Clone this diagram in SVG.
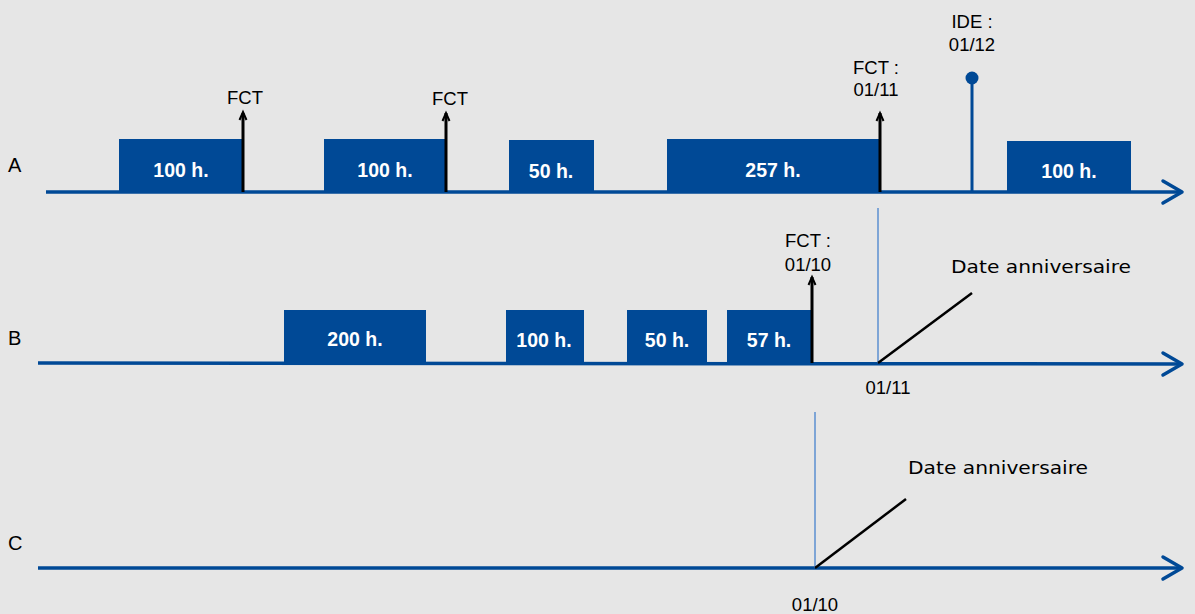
<svg xmlns="http://www.w3.org/2000/svg" width="1195" height="614" viewBox="0 0 1195 614">
<defs>
<style>
.bg{fill:#e6e6e6}
.box{fill:#004996}
.bl{font-family:"Liberation Sans",Arial,sans-serif;font-weight:bold;font-size:19.5px;fill:#fff;text-anchor:middle}
.t{font-family:"Liberation Sans",Arial,sans-serif;font-size:18.5px;fill:#000;text-anchor:middle}
.row{font-family:"Liberation Sans",Arial,sans-serif;font-size:20px;fill:#000}
.da{font-family:"DejaVu Sans","Liberation Sans",sans-serif;font-size:18px;fill:#000}
.axis{stroke:#004996;stroke-width:3.5;fill:none}
.head{stroke:#004996;stroke-width:3.5;fill:none;stroke-linecap:round;stroke-linejoin:round}
.fct{stroke:#000;stroke-width:3;fill:none}
.ah{stroke:#000;stroke-width:2;fill:none;stroke-linejoin:miter}
.thin{stroke:#5b8fd0;stroke-width:1.5;fill:none}
.diag{stroke:#000;stroke-width:2.5;fill:none}
</style>
</defs>
<rect class="bg" x="0" y="0" width="1195" height="614"/>
<text class="row" x="8" y="172">A</text>
<text class="row" x="8" y="345">B</text>
<text class="row" x="8" y="550">C</text>

<g id="connectors">
<line class="axis" x1="46" y1="192" x2="1181" y2="192"/>
<path class="head" d="M1163,181 L1182,192 L1163,203"/>
<line class="axis" x1="38" y1="363" x2="1181" y2="364"/>
<path class="head" d="M1163,353 L1182,364 L1163,375"/>
<line class="axis" x1="38" y1="568" x2="1181" y2="568"/>
<path class="head" d="M1163,557 L1182,568 L1163,579"/>
<line class="thin" x1="878" y1="208" x2="878" y2="363"/>
<line class="thin" x1="815" y1="412" x2="815" y2="568"/>
<line class="diag" x1="878" y1="363" x2="972" y2="293"/>
<line class="diag" x1="815" y1="568" x2="906" y2="499"/>
</g>

<g id="a1"><rect class="box" x="119" y="139" width="124" height="53"/><text class="bl" x="181" y="177">100 h.</text></g>
<g id="a2"><rect class="box" x="324" y="139" width="122" height="53"/><text class="bl" x="385" y="177">100 h.</text></g>
<g id="a3"><rect class="box" x="509" y="140" width="85" height="52"/><text class="bl" x="551" y="178">50 h.</text></g>
<g id="a4"><rect class="box" x="667" y="139" width="213" height="53"/><text class="bl" x="773" y="177">257 h.</text></g>
<g id="a5"><rect class="box" x="1007" y="141" width="124" height="51"/><text class="bl" x="1069" y="178">100 h.</text></g>

<g id="fct-a1"><line class="fct" x1="243" y1="192" x2="243" y2="113"/><path class="ah" d="M239.5,120 L243,112 L246.5,120"/><text class="t" x="245" y="104">FCT</text></g>
<g id="fct-a2"><line class="fct" x1="446" y1="192" x2="446" y2="113"/><path class="ah" d="M442.5,121 L446,113 L449.5,121"/><text class="t" x="450" y="105">FCT</text></g>
<g id="fct-a3"><line class="fct" x1="880" y1="192" x2="880" y2="113"/><path class="ah" d="M876.5,121 L880,113 L883.5,121"/><text class="t" x="876" y="74">FCT :</text><text class="t" x="876" y="96">01/11</text></g>
<g id="ide"><line x1="972" y1="80" x2="972" y2="192" stroke="#004996" stroke-width="3"/><circle cx="972" cy="78" r="6.5" fill="#004996"/><text class="t" x="972" y="28">IDE :</text><text class="t" x="972" y="51">01/12</text></g>

<g id="b1"><rect class="box" x="284" y="310" width="142" height="53"/><text class="bl" x="355" y="346">200 h.</text></g>
<g id="b2"><rect class="box" x="506" y="310" width="78" height="53"/><text class="bl" x="544" y="347">100 h.</text></g>
<g id="b3"><rect class="box" x="627" y="310" width="80" height="53"/><text class="bl" x="667" y="347">50 h.</text></g>
<g id="b4"><rect class="box" x="727" y="310" width="85" height="53"/><text class="bl" x="769" y="347">57 h.</text></g>
<g id="fct-b"><line class="fct" x1="812" y1="363" x2="812" y2="277"/><path class="ah" d="M808.5,285 L812,277 L815.5,285"/><text class="t" x="808" y="247">FCT :</text><text class="t" x="808" y="271">01/10</text></g>
<g id="da-b"><text class="da" x="951" y="273" textLength="180" lengthAdjust="spacingAndGlyphs">Date anniversaire</text><text class="t" x="888" y="394">01/11</text></g>

<g id="da-c"><text class="da" x="908" y="474" textLength="180" lengthAdjust="spacingAndGlyphs">Date anniversaire</text><text class="t" x="815" y="611">01/10</text></g>
</svg>
